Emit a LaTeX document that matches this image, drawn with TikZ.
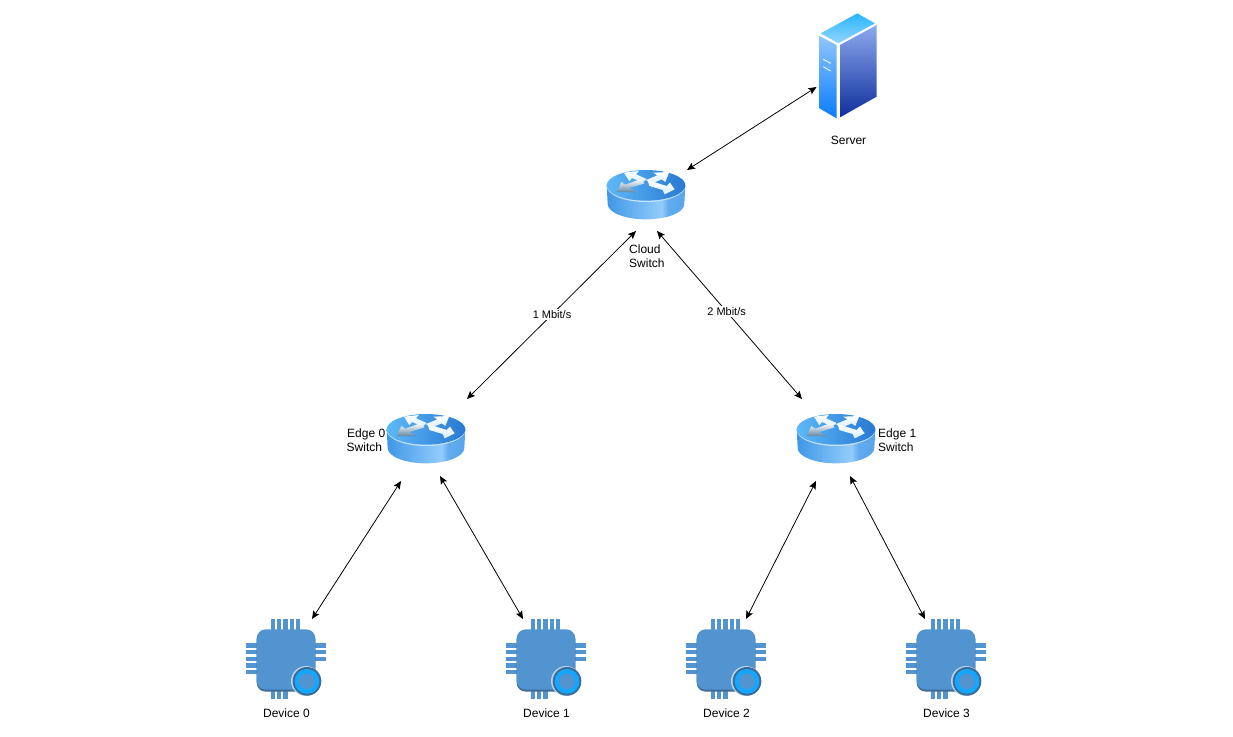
\documentclass[tikz,border=0pt]{standalone}
\usepackage{fontspec}
\setmainfont{Liberation Sans}
\usetikzlibrary{arrows.meta}
\definecolor{chipblue}{HTML}{5294CF}
\definecolor{chipdark}{HTML}{3D6C97}
\definecolor{ringcyan}{HTML}{12A8FF}
\definecolor{HTMLa}{HTML}{3F97E6}
\definecolor{HTMLb}{HTML}{62ABEE}
\definecolor{HTMLc}{HTML}{93CCFC}
\definecolor{HTMLtopa}{HTML}{5DB9F8}
\definecolor{HTMLtopb}{HTML}{2878D2}
\definecolor{HTMLsa}{HTML}{29B6FF}
\definecolor{HTMLsb}{HTML}{93D5FF}
\definecolor{HTMLsc}{HTML}{8FC6FF}
\definecolor{HTMLsd}{HTML}{0A7BFF}
\definecolor{HTMLse}{HTML}{8DAAEE}
\definecolor{HTMLsf}{HTML}{0F2E9C}
\pgfdeclarehorizontalshading{routerside}{100bp}{
  color(0bp)=(HTMLa);
  color(25bp)=(HTMLa);
  color(60bp)=(HTMLc);
  color(64bp)=(HTMLb);
  color(100bp)=(HTMLa)}
\tikzset{
  link/.style={draw=black,line width=0.8pt,{Stealth[length=8pt,width=7pt,inset=1.5pt]}-{Stealth[length=8pt,width=7pt,inset=1.5pt]}},
  lbl/.style={font=\fontsize{12}{14}\selectfont,text=black,inner sep=0pt,align=left},
  ratelbl/.style={font=\fontsize{11}{13}\selectfont,text=black,fill=white,inner sep=1.5pt},
  rarrow/.style={draw=none,top color=white,bottom color=#1},
  rarrow/.default={HTMLc!35!white},
  pin/.style={fill=chipblue,draw=none},
  router/.pic={
    \begin{scope}[scale=1/3]
      \path[shading=routerside,draw=none] (32,76) -- (35,132) arc[start angle=180,end angle=0,x radius=115,y radius=46] -- (268,76) -- cycle;
      \path[fill=white!45!HTMLc] (32,78) arc[start angle=180,end angle=0,x radius=118,y radius=48] -- cycle;
      \path[left color=HTMLtopa,right color=HTMLtopb] (150,76) ellipse[x radius=118,y radius=46];
      \path[rarrow] (84,38) -- (128,33) -- (120,43) -- (152,57) -- (140,68) -- (108,54) -- (100,64) -- cycle;
      \path[rarrow=black!35!HTMLc] (62,96) -- (76,66) -- (88,74) -- (132,58) -- (146,70) -- (100,84) -- (122,97) -- cycle;
      \path[rarrow] (220,36) -- (208,66) -- (197,58) -- (165,72) -- (150,60) -- (184,46) -- (172,38) -- cycle;
      \path[rarrow] (236,88) -- (206,103) -- (200,90) -- (160,78) -- (155,60) -- (212,78) -- (222,68) -- cycle;
    \end{scope}
  },
  chip/.pic={
    \begin{scope}[scale=1/3]
      \foreach \x in {92,111,130,149,168} \path[pin] (\x,28) rectangle (\x+13,60);
      \foreach \x in {92,111,130} \path[pin] (\x,240) rectangle (\x+13,267);
      \foreach \y in {100,120,140,160,180} \path[pin] (18,\y) rectangle (52,\y+13);
      \foreach \y in {100,120,140} \path[pin] (224,\y) rectangle (258,\y+13);
      \path[fill=chipdark,rounded corners=9pt] (50,62) rectangle (226,245);
      \path[fill=chipblue,rounded corners=9pt] (50,58) rectangle (226,239);
      \path[fill=white!60!chipblue] (198,213) circle[radius=45];
      \path[fill=chipdark] (201,214) circle[radius=43];
      \path[fill=ringcyan] (201,214) circle[radius=37];
      \path[fill=chipblue] (201,214) circle[radius=24];
    \end{scope}
  },
  server/.pic={
    \begin{scope}[scale=1/3]
      \path[top color=HTMLsa,bottom color=HTMLsb] (62,100) -- (172,40) -- (225,70) -- (115,130) -- cycle;
      \path[top color=HTMLsc,bottom color=HTMLsd] (58,108) -- (110,135) -- (110,355) -- (58,325) -- cycle;
      \path[top color=HTMLse,bottom color=HTMLsf] (120,135) -- (230,75) -- (230,290) -- (120,352) -- cycle;
      \path[draw=white,line width=0.8pt] (70,178) -- (92,190) (70,200) -- (92,213);
    \end{scope}
  }
}
\begin{document}
\begin{tikzpicture}[x=1pt,y=-1pt]
\useasboundingbox (0,0) rectangle (1233,736);
\pic (serverIcon) at (800,0) {server};
\pic (cloudIcon) at (596,160) {router};
\pic (edgeZeroIcon) at (376,404) {router};
\pic (edgeOneIcon) at (786,404) {router};
\pic (devZeroIcon) at (240,610) {chip};
\pic (devOneIcon) at (500,610) {chip};
\pic (devTwoIcon) at (680,610) {chip};
\pic (devThreeIcon) at (900,610) {chip};

\node[lbl] (serverLbl) at (848.5,140) {Server};
\node[lbl,anchor=west] (cloudLbl) at (629,256) {Cloud\\Switch};
\node[lbl,anchor=west] (edgeZeroLbl) at (346.5,440) {\hspace{0.5pt}Edge 0\\Switch};
\node[lbl,anchor=west] (edgeOneLbl) at (878,440) {Edge 1\\Switch};
\node[lbl] (devZeroLbl) at (286.5,713) {Device 0};
\node[lbl] (devOneLbl) at (546.5,713) {Device 1};
\node[lbl] (devTwoLbl) at (726.5,713) {Device 2};
\node[lbl] (devThreeLbl) at (946.5,713) {Device 3};

\coordinate (serverPort) at (816.5,87);
\coordinate (cloudTop) at (687,170);
\coordinate (cloudLeft) at (636,231);
\coordinate (cloudRight) at (657,231);
\coordinate (edgeZeroTop) at (467,399);
\coordinate (edgeOneTop) at (802,399);
\coordinate (edgeZeroLeft) at (401,481);
\coordinate (edgeZeroRight) at (440,476);
\coordinate (edgeOneLeft) at (816,481);
\coordinate (edgeOneRight) at (850,476);
\coordinate (devZeroTop) at (312,619);
\coordinate (devOneTop) at (523,619);
\coordinate (devTwoTop) at (746,619);
\coordinate (devThreeTop) at (925,619);

\draw[link] (serverPort) -- (cloudTop);
\draw[link] (cloudLeft) -- node[ratelbl,pos=0.497] (rateLeft) {1 Mbit/s} (edgeZeroTop);
\draw[link] (cloudRight) -- node[ratelbl,pos=0.48] (rateRight) {2 Mbit/s} (edgeOneTop);
\draw[link] (edgeZeroLeft) -- (devZeroTop);
\draw[link] (edgeZeroRight) -- (devOneTop);
\draw[link] (edgeOneLeft) -- (devTwoTop);
\draw[link] (edgeOneRight) -- (devThreeTop);
\end{tikzpicture}
\end{document}
